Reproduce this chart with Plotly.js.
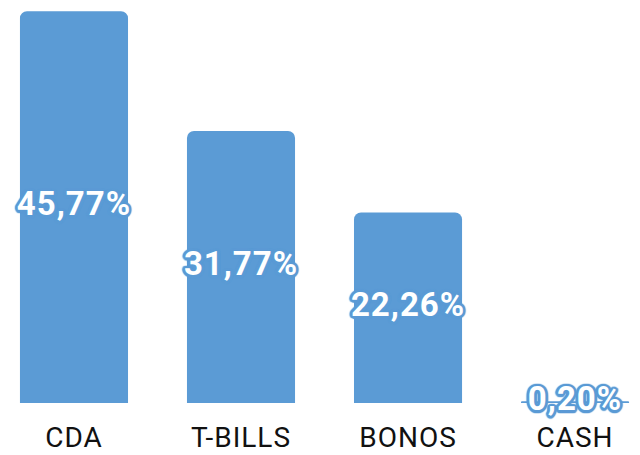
<!DOCTYPE html>
<html>
<head>
<meta charset="utf-8">
<script src="https://cdn.plot.ly/plotly-3.0.1.min.js"></script>
<style>
html,body{margin:0;padding:0;background:#fff;}
#chart{width:640px;height:455px;}
#chart .textpoint text{letter-spacing:1px;}
#chart .xtick text{letter-spacing:1px;}
</style>
</head>
<body>
<div id="chart"></div>
<script>
const categories = ["CDA", "T-BILLS", "BONOS", "CASH"];
const values = [45.77, 31.77, 22.26, 0.20];
const labels = ["45,77%", "31,77%", "22,26%", "0,20%"];

const blue = "#5b9bd5";
const dirs = [];
for (let i = 0; i < 16; i++) {
  const a = i * Math.PI / 8;
  dirs.push((2.6 * Math.cos(a)).toFixed(2) + "px " + (2.6 * Math.sin(a)).toFixed(2) + "px 1px " + blue);
}
const shadow = dirs.join(", ");

const bars = {
  type: "bar",
  x: categories,
  y: values,
  marker: {color: blue},
  hoverinfo: "none",
  showlegend: false
};
const texts = {
  type: "scatter",
  mode: "text",
  x: categories,
  y: values.map(v => v / 2),
  text: labels,
  textposition: "middle center",
  textfont: {family: "Roboto, Liberation Sans, sans-serif", size: 33, color: "#ffffff", weight: "bold", shadow: shadow},
  cliponaxis: false,
  hoverinfo: "none",
  showlegend: false
};

const layout = {
  width: 640,
  height: 455,
  margin: {l: 0, r: 0, t: 0, b: 52},
  paper_bgcolor: "#ffffff",
  plot_bgcolor: "#ffffff",
  bargap: 0.353,
  barcornerradius: 7,
  xaxis: {
    type: "category",
    range: [-0.443, 3.389],
    showgrid: false, zeroline: false, showline: false, ticks: "",
    tickfont: {family: "Roboto, Liberation Sans, sans-serif", size: 28, color: "#111111"},
    ticklabelstandoff: 15
  },
  yaxis: {
    range: [0, 47.08],
    visible: false, showgrid: false, zeroline: false
  }
};

Plotly.newPlot("chart", [bars, texts], layout, {staticPlot: true, displayModeBar: false});
</script>
</body>
</html>
